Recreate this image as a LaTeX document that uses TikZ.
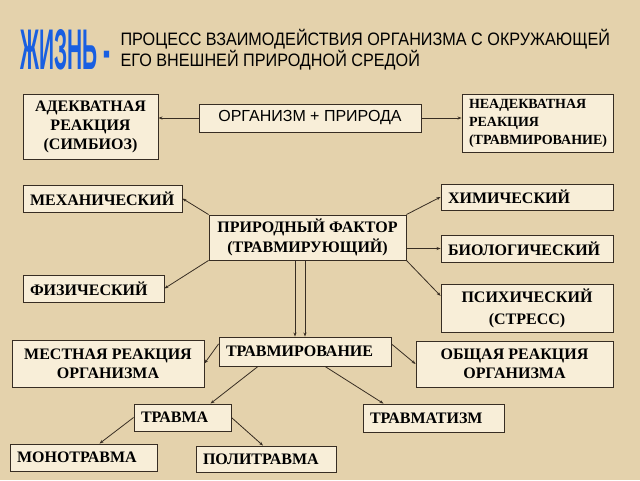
\documentclass[tikz,border=0pt]{standalone}
\usepackage{graphicx}
\usepackage{fontspec}
\setmainfont{Liberation Serif}
\newfontfamily\orgfont{Liberation Sans}
\newfontfamily\headfont[FakeStretch=0.9]{Liberation Sans}
\newfontfamily\lifefont{Liberation Sans}
\usetikzlibrary{arrows.meta}
\usetikzlibrary{positioning}

\definecolor{parchment}{RGB}{228,210,172}
\definecolor{boxfill}{RGB}{248,238,216}
\definecolor{ink}{RGB}{55,45,35}
\definecolor{lifeblue}{RGB}{25,95,225}

\tikzset{
  box/.style={draw=ink,line width=0.9pt,fill=boxfill,inner xsep=7pt,inner ysep=0pt,font=\bfseries\fontsize{16}{19}\selectfont,text=black},
  cbox/.style 2 args={box,align=center,minimum width=#1pt,minimum height=#2pt},
  lbox/.code 2 args={\pgfmathsetlengthmacro\boxtw{#1-14}\pgfkeysalso{box,align=left,minimum width=#1pt,minimum height=#2pt,text width=\boxtw}},
  link/.style={draw=ink,line width=0.8pt,-{Stealth[length=4pt,width=3pt]}},
}

\begin{document}
\begin{tikzpicture}[x=1pt,y=-1pt]

\fill[parchment] (0,0) rectangle (640,480);

% title
\node[anchor=north west,inner sep=0pt,text=lifeblue] (life) at (20,29) {\resizebox{90pt}{40pt}{\lifefont\bfseries ЖИЗНЬ -}};
\node[right=10pt of life,inner sep=0pt,align=left,font=\headfont\fontsize{18}{19}\selectfont] (head) {ПРОЦЕСС ВЗАИМОДЕЙСТВИЯ ОРГАНИЗМА С ОКРУЖАЮЩЕЙ\\ЕГО ВНЕШНЕЙ ПРИРОДНОЙ СРЕДОЙ};

\node[cbox={135}{65}] (adequate) at (90.5,126.5) {АДЕКВАТНАЯ\\РЕАКЦИЯ\\(СИМБИОЗ)};
\node[cbox={222}{28},font=\orgfont\fontsize{16}{19}\selectfont] (pair) at (310,118) {ОРГАНИЗМ + ПРИРОДА};
\node[lbox={151}{58},font=\bfseries\fontsize{14}{18}\selectfont] (inadequate) at (537.5,123) {НЕАДЕКВАТНАЯ\\РЕАКЦИЯ\\(ТРАВМИРОВАНИЕ)};

\node[lbox={159}{27}] (mech) at (102.5,198.5) {МЕХАНИЧЕСКИЙ};
\node[lbox={172}{26}] (chem) at (527,197) {ХИМИЧЕСКИЙ};
\node[cbox={197}{45},font=\bfseries\fontsize{16}{20}\selectfont] (factor) at (307.5,237.5) {ПРИРОДНЫЙ ФАКТОР\\(ТРАВМИРУЮЩИЙ)};
\node[lbox={172}{27}] (bio) at (527,248.5) {БИОЛОГИЧЕСКИЙ};
\node[lbox={141}{27}] (phys) at (93.5,288.5) {ФИЗИЧЕСКИЙ};
\node[cbox={172}{48},font=\bfseries\fontsize{16}{22}\selectfont] (psych) at (527,308) {ПСИХИЧЕСКИЙ\\(СТРЕСС)};

\node[lbox={172}{29}] (travmir) at (305,351.5) {ТРАВМИРОВАНИЕ};
\node[cbox={192}{47}] (local) at (108,363.5) {МЕСТНАЯ РЕАКЦИЯ\\ОРГАНИЗМА};
\node[cbox={197}{46}] (general) at (514.5,364) {ОБЩАЯ РЕАКЦИЯ\\ОРГАНИЗМА};

\node[lbox={97}{27}] (travma) at (182.5,417.5) {ТРАВМА};
\node[lbox={141}{28}] (travmatism) at (433.5,418) {ТРАВМАТИЗМ};
\node[lbox={147}{27}] (mono) at (83.5,457.5) {МОНОТРАВМА};
\node[lbox={140}{26}] (poly) at (266,459) {ПОЛИТРАВМА};

% connectors
\draw[link] (pair.west) -- (adequate.east |- pair.west);
\draw[link] (pair.east) -- (inadequate.west |- pair.east);
\draw[link] (factor.north west) -- (mech.east);
\draw[link] (factor.north east) -- (chem.west);
\draw[link] (factor.east |- bio.west) -- (bio.west);
\draw[link] (factor.south east) -- (psych.172);
\draw[link] (factor.south west) -- (phys.east);

\coordinate (drop) at (travmir.north |- factor.south);
\draw[link] ([xshift=-10pt]drop) -- ([xshift=-10pt]travmir.north);
\draw[link] (drop) -- (travmir.north);

\draw[link] (travmir.175) -- (local.east);
\draw[link] (travmir.5) -- (general.west);
\draw[link] ([xshift=-47pt]travmir.south) -- ([xshift=28pt]travma.north);
\draw[link] ([xshift=20pt]travmir.south) -- ([xshift=-50pt]travmatism.north);
\draw[link] (travma.west) -- ([xshift=16pt]mono.north);
\draw[link] (travma.east) -- ([xshift=-3pt]poly.north);

\end{tikzpicture}
\end{document}
